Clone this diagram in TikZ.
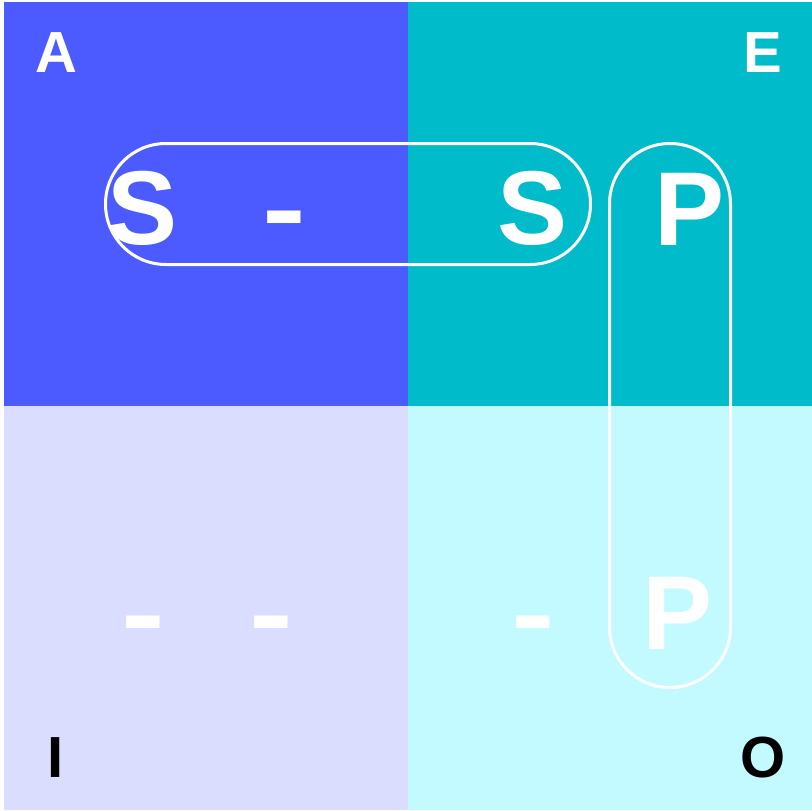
\documentclass[tikz,border=0pt]{standalone}
\usepackage{fontspec}
\setmainfont{Liberation Sans}
\definecolor{qA}{HTML}{4C5BFF}
\definecolor{qE}{HTML}{00BBC9}
\definecolor{qI}{HTML}{DBDDFF}
\definecolor{qO}{HTML}{C2FAFF}
\tikzset{
  big/.style={anchor=base,inner sep=0pt,text=white,font=\fontsize{105}{105}\selectfont\bfseries},
  bigdash/.style={big,xscale=1.25},
  corner/.style={anchor=base,inner sep=0pt,font=\fontsize{58}{58}\selectfont\bfseries},
  pill/.style={draw=white,line width=3pt,rounded corners=60.4pt}
}
\begin{document}
\begin{tikzpicture}[x=1pt,y=-1pt]
\useasboundingbox (0,0) rectangle (812,811);
\fill[white] (0,0) rectangle (812,811);
\fill[qA] (4,2) rectangle (408,406);
\fill[qE] (408,2) rectangle (812,406);
\fill[qI] (4,406) rectangle (408,810);
\fill[qO] (408,406) rectangle (812,810);
% corner labels
\node[corner,text=white] (lA) at (56,72) {A};
\node[corner,text=white] (lE) at (763,72) {E};
\node[corner,text=black] (lI) at (55.5,777) {I};
\node[corner,text=black] (lO) at (763,777) {O};
% top row
\node[big] (s1) at (143,244) {S};
\node[bigdash] (d0) at (284,244) {-};
\node[big] (s2) at (533,244) {S};
\node[big] (p1) at (689.5,245) {P};
% bottom row
\node[bigdash] (d1) at (143,649) {-};
\node[bigdash] (d2) at (271,649) {-};
\node[bigdash] (d3) at (533,649) {-};
\node[big] (p2) at (677.5,649) {P};
% pills
\draw[pill] (105.5,143.5) rectangle (590.5,264.5);
\draw[pill] (609.5,143.5) rectangle (730.5,687.5);
\end{tikzpicture}
\end{document}
